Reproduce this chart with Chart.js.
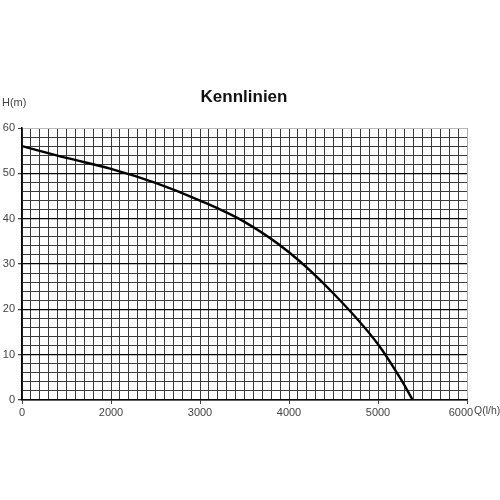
<!DOCTYPE html>
<html>
<head>
<meta charset="utf-8">
<script src="https://cdn.jsdelivr.net/npm/chart.js@4/dist/chart.umd.min.js"></script>
<style>
    body { margin: 0; background: #fff; }
    #caixa { width: 500px; height: 500px; position: relative; }
</style>
</head>
<body>
<div id="caixa"><canvas id="kennlinie"></canvas></div>
<script>
// Förderstrom Q (l/h) und Förderhöhe H (m)
const foerderstrom = [1000, 1500, 2000, 2500, 3000, 3500, 4000, 4500, 5000, 5250, 5390];
const foerderhoehe = [56.0, 53.4, 51.0, 47.9, 44.0, 39.3, 32.6, 23.5, 12.3, 4.8, 0];

// Beschriftung der x-Achse (die erste Marke steht im Original als "0")
const xWerte = [1000, 2000, 3000, 4000, 5000, 6000];
const xBeschriftung = ['0', '2000', '3000', '4000', '5000', '6000'];
const yBeschriftung = [0, 10, 20, 30, 40, 50, 60];

const titel = 'Kennlinien';
const yTitel = 'H(m)';
const xTitel = 'Q(l/h)';

const punkte = foerderstrom.map((q, i) => ({ x: q, y: foerderhoehe[i] }));

const textPlugin = {
    id: 'texte',
    afterDraw(chart) {
        const ctx = chart.ctx;
        ctx.save();
        ctx.fillStyle = '#111';
        ctx.font = 'bold 17px "Liberation Sans", Arial, sans-serif';
        ctx.textAlign = 'center';
        ctx.textBaseline = 'alphabetic';
        ctx.fillText(titel, 244, 102);
        ctx.fillStyle = '#444';
        ctx.font = '11px "Liberation Sans", Arial, sans-serif';
        ctx.textAlign = 'left';
        ctx.textBaseline = 'middle';
        ctx.fillText(yTitel, 2, 103);
        ctx.font = '10.5px "Liberation Sans", Arial, sans-serif';
        ctx.fillText(xTitel, 474, 411);
        ctx.restore();
    }
};

new Chart(document.getElementById('kennlinie'), {
    type: 'line',
    data: {
        datasets: [{
            data: punkte,
            borderColor: '#000',
            borderWidth: 2.4,
            pointRadius: 0,
            tension: 0.4,
            cubicInterpolationMode: 'monotone',
            fill: false
        }]
    },
    options: {
        responsive: true,
        maintainAspectRatio: false,
        animation: false,
        layout: {
            padding: { top: 128, left: 0, right: 33, bottom: 0 }
        },
        plugins: {
            legend: { display: false },
            tooltip: { enabled: false }
        },
        scales: {
            x: {
                type: 'linear',
                min: 1000,
                max: 6000,
                afterFit: (axis) => { axis.height = 100; },
                ticks: {
                    stepSize: 100,
                    autoSkip: false,
                    maxRotation: 0,
                    padding: 2,
                    color: '#444',
                    font: { family: '"Liberation Sans", Arial, sans-serif', size: 11 },
                    callback: (v) => {
                        const i = xWerte.indexOf(v);
                        if (i < 0) return '';
                        // letzte Beschriftung steht links vom Achsenende
                        return i === xWerte.length - 1 ? xBeschriftung[i] + '\u2007\u2007' : xBeschriftung[i];
                    }
                },
                grid: {
                    color: (c) => c.tick && c.tick.value === 6000 ? '#aaa' : '#3a3a3a',
                    lineWidth: 1,
                    tickLength: 4,
                    tickColor: (c) => c.tick && xWerte.includes(c.tick.value) ? '#444' : 'rgba(0,0,0,0)'
                },
                border: { color: '#000', width: 1.5 }
            },
            y: {
                min: 0,
                max: 60,
                afterFit: (axis) => { axis.width = 22; },
                ticks: {
                    stepSize: 2,
                    autoSkip: false,
                    padding: 3,
                    color: '#444',
                    font: { family: '"Liberation Sans", Arial, sans-serif', size: 11 },
                    callback: (v) => yBeschriftung.includes(v) ? String(v) : ''
                },
                grid: {
                    color: (c) => {
                        if (!c.tick) return '#3a3a3a';
                        if (c.tick.value === 60) return '#bbb';
                        return c.tick.value % 10 === 0 ? '#000' : '#3a3a3a';
                    },
                    lineWidth: (c) => c.tick && c.tick.value % 10 === 0 && c.tick.value !== 60 ? 1.3 : 1,
                    tickLength: 4,
                    tickColor: (c) => c.tick && yBeschriftung.includes(c.tick.value) ? '#444' : 'rgba(0,0,0,0)'
                },
                border: { color: '#000', width: 1.5 }
            }
        }
    },
    plugins: [textPlugin]
});
</script>
</body>
</html>
